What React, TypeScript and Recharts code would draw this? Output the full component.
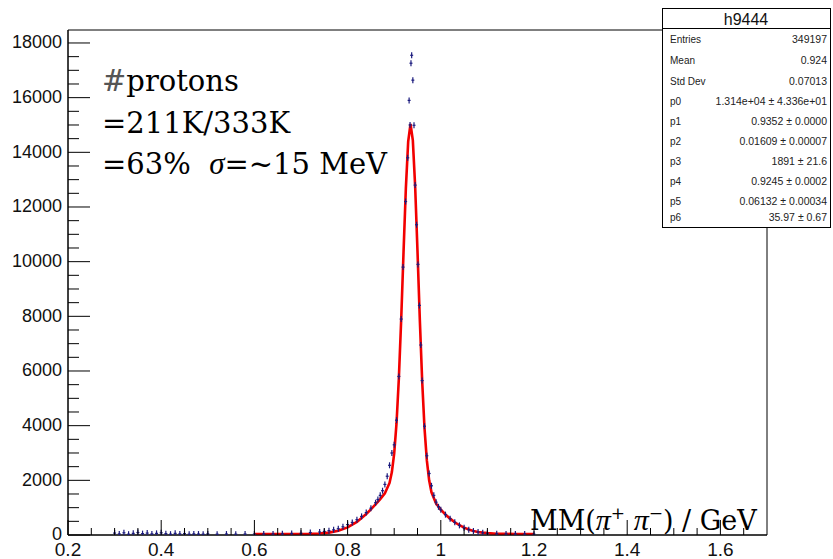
import { ComposedChart, Line, Scatter, XAxis, YAxis, ReferenceArea } from 'recharts'

const xMajor = [0.2, 0.4, 0.6, 0.8, 1, 1.2, 1.4, 1.6]
const xMinor = [0.25, 0.3, 0.35, 0.45, 0.5, 0.55, 0.65, 0.7, 0.75, 0.85, 0.9, 0.95, 1.05, 1.1, 1.15, 1.25, 1.3, 1.35, 1.45, 1.5, 1.55, 1.65]
const yMajor = [0, 2000, 4000, 6000, 8000, 10000, 12000, 14000, 16000, 18000]
const yMinor = [500, 1000, 1500, 2500, 3000, 3500, 4500, 5000, 5500, 6500, 7000, 7500, 8500, 9000, 9500, 10500, 11000, 11500, 12500, 13000, 13500, 14500, 15000, 15500, 16500, 17000, 17500]

// histogram bins (MM in GeV) and counts
const histX = [0.30, 0.31, 0.32, 0.33, 0.34, 0.35, 0.36, 0.37, 0.38, 0.39, 0.40, 0.41, 0.42, 0.43, 0.44, 0.45, 0.46, 0.47, 0.48, 0.49, 0.50, 0.52, 0.54, 0.56, 0.58, 0.60, 0.62, 0.64, 0.66, 0.68, 0.70, 0.72, 0.74, 0.75, 0.76, 0.77, 0.78, 0.79, 0.80, 0.81, 0.82, 0.83, 0.84, 0.85, 0.86, 0.865, 0.87, 0.875, 0.88, 0.885, 0.89, 0.895, 0.90, 0.905, 0.91, 0.915, 0.919, 0.9245, 0.929, 0.932, 0.934, 0.936, 0.9375, 0.940, 0.9425, 0.945, 0.948, 0.951, 0.954, 0.957, 0.960, 0.965, 0.970, 0.975, 0.980, 0.985, 0.990, 0.995, 1.00, 1.01, 1.02, 1.03, 1.04, 1.05, 1.06, 1.07, 1.08, 1.09, 1.10, 1.12, 1.14, 1.16, 1.18, 1.20]
const histY = [70, 40, 80, 30, 60, 90, 50, 70, 40, 60, 80, 50, 30, 60, 40, 50, 30, 40, 35, 30, 40, 30, 35, 30, 35, 35, 40, 40, 45, 55, 60, 90, 110, 130, 160, 190, 230, 300, 380, 460, 560, 680, 820, 980, 1180, 1300, 1450, 1620, 1850, 2150, 2550, 3000, 3300, 4200, 5800, 7900, 9800, 12200, 13800, 15900, 15000, 17260, 17550, 16640, 14990, 12800, 11350, 9900, 8400, 6950, 5650, 3980, 2900, 2250, 1800, 1450, 1200, 1030, 920, 745, 595, 462, 352, 265, 195, 145, 108, 82, 62, 46, 40, 38, 35, 30]

// fit curve
const fitX = [0.60, 0.62, 0.64, 0.66, 0.68, 0.70, 0.72, 0.74, 0.76, 0.78, 0.80, 0.82, 0.84, 0.85, 0.86, 0.87, 0.88, 0.89, 0.895, 0.90, 0.905, 0.91, 0.915, 0.92, 0.925, 0.93, 0.935, 0.94, 0.945, 0.95, 0.955, 0.96, 0.965, 0.97, 0.975, 0.98, 0.99, 1.00, 1.01, 1.02, 1.03, 1.04, 1.05, 1.06, 1.07, 1.08, 1.09, 1.10, 1.12, 1.14, 1.16, 1.18, 1.20]
const fitY = [36, 36, 36, 36, 37, 38, 43, 57, 88, 154, 277, 479, 768, 940, 1123, 1314, 1526, 1904, 2301, 2983, 4090, 5730, 7883, 10332, 12676, 14389, 15038, 14435, 12740, 10377, 7870, 5642, 3921, 2738, 2000, 1562, 1145, 927, 751, 598, 467, 357, 269, 200, 149, 112, 86, 68, 48, 40, 37, 36, 36]

const statLabels = ['Entries', 'Mean', 'Std Dev', 'p0', 'p1', 'p2', 'p3', 'p4', 'p5', 'p6']
const statValues = ['349197', '0.924', '0.07013', '1.314e+04 ± 4.336e+01', '0.9352 ± 0.0000', '0.01609 ± 0.00007', '1891 ± 21.6', '0.9245 ± 0.0002', '0.06132 ± 0.00034', '35.97 ± 0.67']

const histData = histX.map((x, i) => ({ x, y: histY[i] }))
const fitData = fitX.map((x, i) => ({ x, y: fitY[i] }))

const sans = '"Liberation Sans", Arial, sans-serif'
const serif = '"DejaVu Serif", serif'
const greek = '"Liberation Serif", serif'

const isMajor = (list: number[], v: number) => list.some(m => Math.abs(m - v) < 1e-6)

const XTick = (props: any) => {
  const { x, y, payload } = props
  const major = isMajor(xMajor, payload.value)
  return (
    <g>
      <line x1={x} x2={x} y1={y} y2={y - (major ? 15 : 7)} stroke="#000" strokeWidth={1} />
      {major && (
        <text x={x} y={y + 21} textAnchor="middle" fontFamily={sans} fontSize={19} fill="#111">
          {String(payload.value)}
        </text>
      )}
    </g>
  )
}

const YTick = (props: any) => {
  const { x, y, payload } = props
  const major = isMajor(yMajor, payload.value)
  return (
    <g>
      <line x1={x} x2={x + (major ? 22 : 11)} y1={y} y2={y} stroke="#000" strokeWidth={1} />
      {major && (
        <text x={x - 6} y={y - 1} dy="0.35em" textAnchor="end" fontFamily={sans} fontSize={18} fill="#111">
          {String(payload.value)}
        </text>
      )}
    </g>
  )
}

const HistMark = (props: any) => {
  const { cx, cy } = props
  return (
    <g>
      <line x1={cx} x2={cx} y1={cy - 3} y2={cy + 3} stroke="#1b1b7e" strokeWidth={1.2} />
      <line x1={cx - 1.5} x2={cx + 1.5} y1={cy} y2={cy} stroke="#1b1b7e" strokeWidth={1.2} />
    </g>
  )
}

const rowY = [39.5, 60.5, 81, 101, 121, 141, 161.5, 181.5, 201.5, 217]

export default function App() {
  return (
    <div style={{ position: 'absolute', left: 0, top: 0, width: 833, height: 559, background: '#fff' }}>
      <ComposedChart width={833} height={559} margin={{ top: 30, right: 66, bottom: 0, left: 0 }}>
        <XAxis
          type="number"
          dataKey="x"
          domain={[0.2, 1.7]}
          allowDataOverflow
          ticks={[...xMajor, ...xMinor]}
          interval={0}
          height={24}
          tickSize={0}
          tickMargin={0}
          tickLine={false}
          axisLine={{ stroke: '#000' }}
          tick={<XTick />}
        />
        <YAxis
          type="number"
          domain={[0, 18475]}
          allowDataOverflow
          ticks={[...yMajor, ...yMinor]}
          interval={0}
          width={68}
          tickSize={0}
          tickMargin={0}
          tickLine={false}
          axisLine={{ stroke: '#000' }}
          tick={<YTick />}
        />
        <ReferenceArea x1={0.2} x2={1.7} y1={0} y2={18475} fill="none" stroke="#000" strokeWidth={1} ifOverflow="visible" />
        <Scatter data={histData} dataKey="y" shape={<HistMark />} isAnimationActive={false} />
        <Line data={fitData} dataKey="y" type="linear" stroke="#f20000" strokeWidth={2.6} dot={false} isAnimationActive={false} />
      </ComposedChart>
      <svg width={833} height={559} style={{ position: 'absolute', left: 0, top: 0, pointerEvents: 'none' }}>
        <text x={102} y={91} fontFamily={serif} fontSize={29} fill="#000">
          <tspan fill="#555">#</tspan>protons
        </text>
        <text x={102} y={133} fontFamily={serif} fontSize={29} fill="#000">=211K/333K</text>
        <text x={102} y={174} fontFamily={serif} fontSize={29} fill="#000">
          =63%{'\u00a0\u00a0'}<tspan fontFamily={greek} fontStyle="italic" fontSize={31}>σ</tspan>=~15 MeV
        </text>
        <text x={530} y={530} fontFamily={serif} fontSize={27} fill="#000">
          MM(<tspan fontFamily={greek} fontStyle="italic" fontSize={30}>π</tspan>
          <tspan dy={-11} fontSize={17}>+</tspan>
          <tspan dy={11}>{'\u00a0'}</tspan>
          <tspan fontFamily={greek} fontStyle="italic" fontSize={30}>π</tspan>
          <tspan dy={-11} fontSize={17}>−</tspan>
          <tspan dy={11}>) / GeV</tspan>
        </text>
        <rect x={662.5} y={8.5} width={168} height={219} fill="#fff" stroke="#000" strokeWidth={1} />
        <line x1={662.5} x2={830.5} y1={28.5} y2={28.5} stroke="#000" strokeWidth={1} />
        <text x={746} y={25} textAnchor="middle" fontFamily={sans} fontSize={16} fill="#111">h9444</text>
        {statLabels.map((l, i) => (
          <g key={l}>
            <text x={670} y={rowY[i] + 3.6} fontFamily={sans} fontSize={10} fill="#222">{l}</text>
            <text x={827} y={rowY[i] + 3.6} textAnchor="end" fontFamily={sans} fontSize={10.5} fill="#222">{statValues[i]}</text>
          </g>
        ))}
      </svg>
    </div>
  )
}
